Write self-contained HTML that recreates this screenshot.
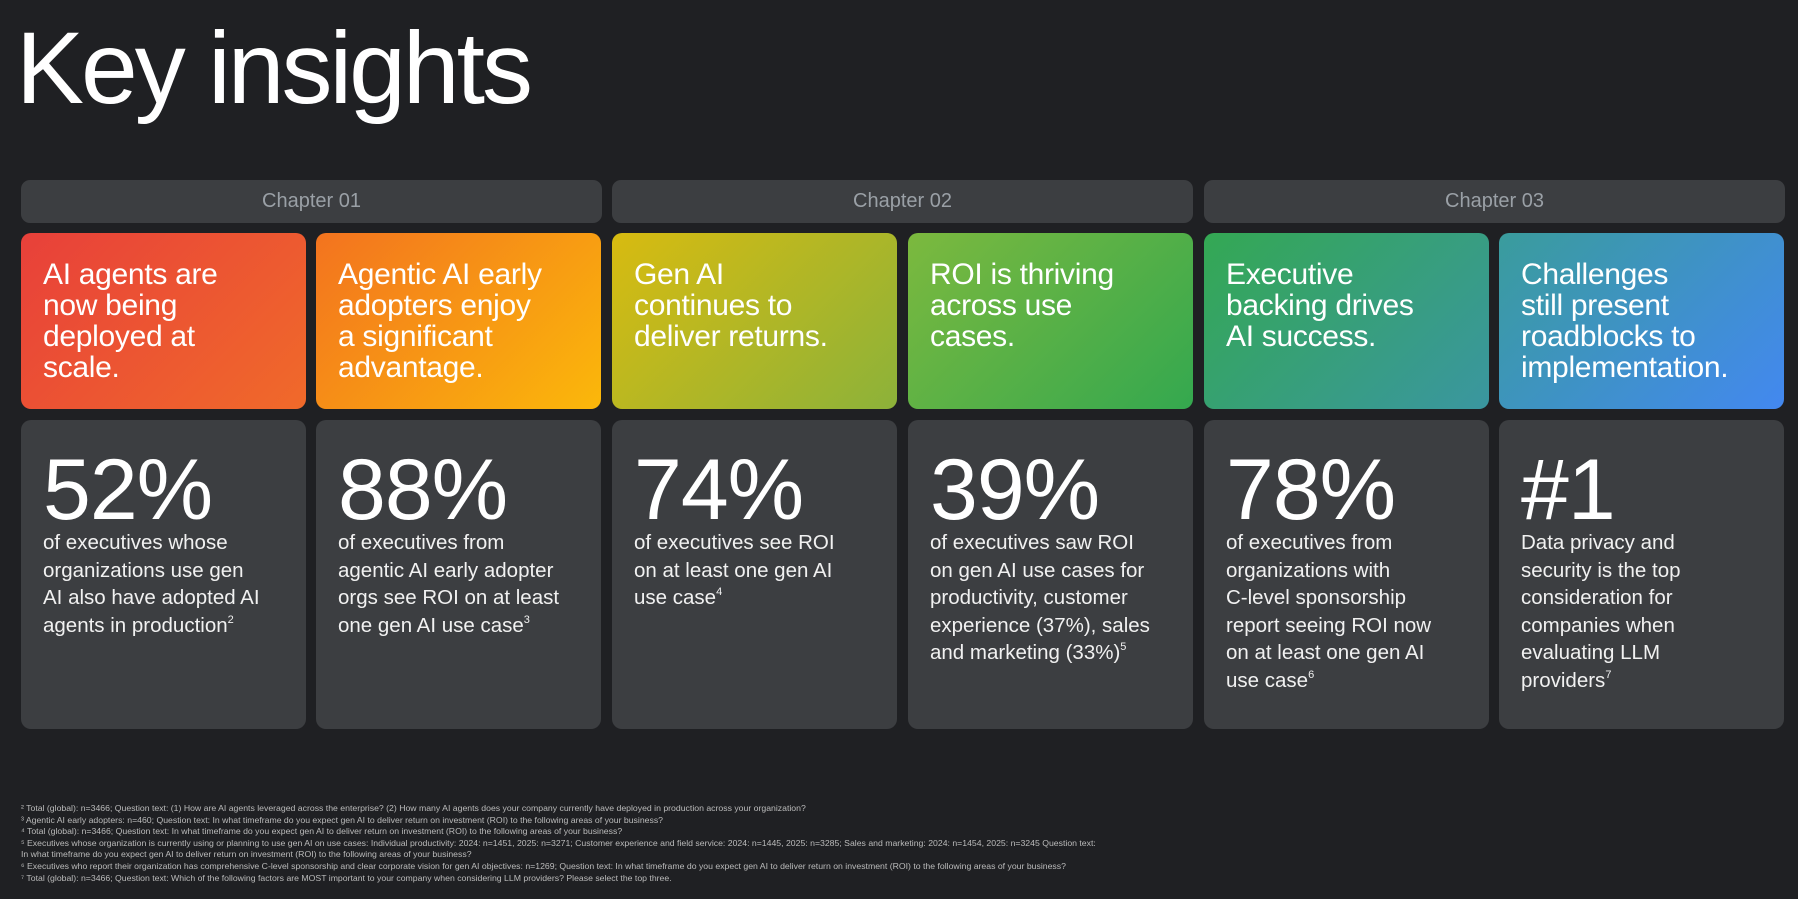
<!DOCTYPE html>
<html><head><meta charset="utf-8"><style>
*{margin:0;padding:0;box-sizing:border-box}
body{width:1798px;height:899px;background:#1f2023;font-family:"Liberation Sans",sans-serif;color:#fff;position:relative;overflow:hidden}
h1{position:absolute;left:16px;top:8px;font-size:102px;font-weight:400;letter-spacing:-3px;line-height:120px}
.ch{position:absolute;top:180px;height:43px;width:581px;background:#3c3e41;border-radius:9px;color:#9aa0a6;font-size:20px;text-align:center;line-height:43px}
.h{position:absolute;top:233px;height:176px;width:285px;border-radius:10px;padding:26px 0 0 22px;font-size:30px;line-height:31px;letter-spacing:-0.3px;white-space:nowrap}
.g{position:absolute;top:420px;height:309px;width:285px;border-radius:10px;background:#3c3e41;padding:20px 0 0 22px;white-space:nowrap}
.n{font-size:86px;line-height:100px;letter-spacing:-1px}
.t{font-size:20.5px;line-height:27.5px;color:#f1f1f1;margin-top:-11px}
sup{font-size:11px;vertical-align:top;line-height:16px}
.f{position:absolute;left:21px;top:803px;font-size:8.7px;line-height:11.6px;color:#bbb;white-space:nowrap}
</style></head><body>
<h1>Key insights</h1>
<div class="ch" style="left:21px">Chapter 01</div>
<div class="ch" style="left:612px">Chapter 02</div>
<div class="ch" style="left:1204px">Chapter 03</div>

<div class="h" style="left:21px;background:linear-gradient(135deg,#e8403a,#f06a2a)">AI agents are<br>now being<br>deployed at<br>scale.</div>
<div class="h" style="left:316px;background:linear-gradient(135deg,#f3731f,#fbb80a)">Agentic AI early<br>adopters enjoy<br>a significant<br>advantage.</div>
<div class="h" style="left:612px;background:linear-gradient(135deg,#d8bb10,#8cb23a)">Gen AI<br>continues to<br>deliver returns.</div>
<div class="h" style="left:908px;background:linear-gradient(135deg,#7cb93e,#34a84f)">ROI is thriving<br>across use<br>cases.</div>
<div class="h" style="left:1204px;background:linear-gradient(135deg,#34a853,#3a96a0)">Executive<br>backing drives<br>AI success.</div>
<div class="h" style="left:1499px;background:linear-gradient(135deg,#3a9c9c,#4388f0)">Challenges<br>still present<br>roadblocks to<br>implementation.</div>

<div class="g" style="left:21px"><div class="n">52%</div><div class="t">of executives whose<br>organizations use gen<br>AI also have adopted AI<br>agents in production<sup>2</sup></div></div>
<div class="g" style="left:316px"><div class="n">88%</div><div class="t">of executives from<br>agentic AI early adopter<br>orgs see ROI on at least<br>one gen AI use case<sup>3</sup></div></div>
<div class="g" style="left:612px"><div class="n">74%</div><div class="t">of executives see ROI<br>on at least one gen AI<br>use case<sup>4</sup></div></div>
<div class="g" style="left:908px"><div class="n">39%</div><div class="t">of executives saw ROI<br>on gen AI use cases for<br>productivity, customer<br>experience (37%), sales<br>and marketing (33%)<sup>5</sup></div></div>
<div class="g" style="left:1204px"><div class="n">78%</div><div class="t">of executives from<br>organizations with<br>C-level sponsorship<br>report seeing ROI now<br>on at least one gen AI<br>use case<sup>6</sup></div></div>
<div class="g" style="left:1499px"><div class="n">#1</div><div class="t">Data privacy and<br>security is the top<br>consideration for<br>companies when<br>evaluating LLM<br>providers<sup>7</sup></div></div>

<div class="f">
² Total (global): n=3466; Question text: (1) How are AI agents leveraged across the enterprise? (2) How many AI agents does your company currently have deployed in production across your organization?<br>
³ Agentic AI early adopters: n=460; Question text: In what timeframe do you expect gen AI to deliver return on investment (ROI) to the following areas of your business?<br>
⁴ Total (global): n=3466; Question text: In what timeframe do you expect gen AI to deliver return on investment (ROI) to the following areas of your business?<br>
⁵ Executives whose organization is currently using or planning to use gen AI on use cases: Individual productivity: 2024: n=1451, 2025: n=3271; Customer experience and field service: 2024: n=1445, 2025: n=3285; Sales and marketing: 2024: n=1454, 2025: n=3245 Question text:<br>
In what timeframe do you expect gen AI to deliver return on investment (ROI) to the following areas of your business?<br>
⁶ Executives who report their organization has comprehensive C-level sponsorship and clear corporate vision for gen AI objectives: n=1269; Question text: In what timeframe do you expect gen AI to deliver return on investment (ROI) to the following areas of your business?<br>
⁷ Total (global): n=3466; Question text: Which of the following factors are MOST important to your company when considering LLM providers? Please select the top three.
</div>
</body></html>
